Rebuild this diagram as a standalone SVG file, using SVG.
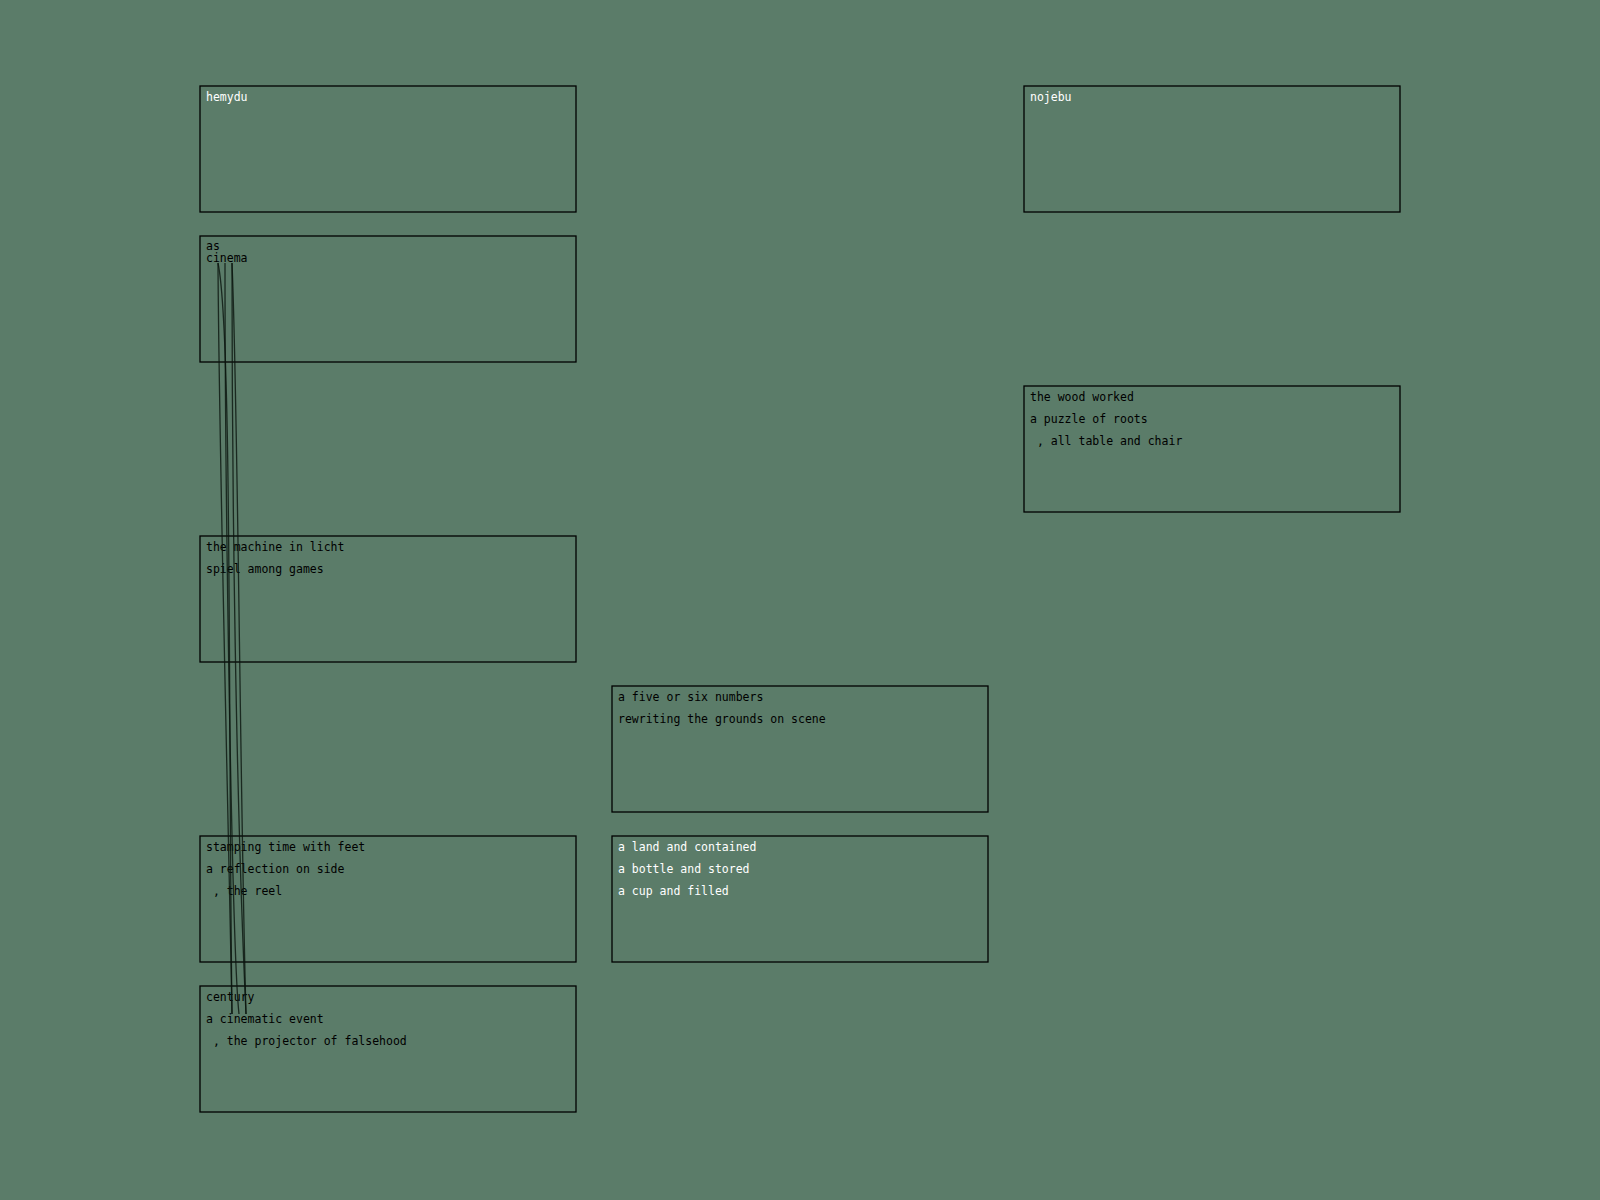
<svg xmlns="http://www.w3.org/2000/svg" width="1600" height="1200" viewBox="0 0 1600 1200">
<style>
.box{fill:none;stroke:#000;stroke-width:1.3}
.t{font-family:"DejaVu Sans Mono","Liberation Mono",monospace;font-size:11.5px;fill:#000;white-space:pre}
.w{fill:#fff}
.edge{fill:none;stroke:#0a140e;stroke-width:1.3;stroke-opacity:0.8}
</style>
<rect x="0" y="0" width="1600" height="1200" fill="#5b7c69"/>
<g id="node-hemydu"><rect class="box" x="200" y="86" width="376" height="126"/><text class="t w" x="206" y="100.5">hemydu</text></g>
<g id="node-cinema"><rect class="box" x="200" y="236" width="376" height="126"/><text class="t" x="206" y="249.5">as</text><text class="t" x="206" y="261.5">cinema</text></g>
<g id="node-machine"><rect class="box" x="200" y="536" width="376" height="126"/><text class="t" x="206" y="550.5">the machine in licht</text><text class="t" x="206" y="572.5">spiel among games</text></g>
<g id="node-stamping"><rect class="box" x="200" y="836" width="376" height="126"/><text class="t" x="206" y="850.5">stamping time with feet</text><text class="t" x="206" y="872.5">a reflection on side</text><text class="t" x="206" y="894.5"> , the reel</text></g>
<g id="node-century"><rect class="box" x="200" y="986" width="376" height="126"/><text class="t" x="206" y="1000.5">century</text><text class="t" x="206" y="1022.5">a cinematic event</text><text class="t" x="206" y="1044.5"> , the projector of falsehood</text></g>
<g id="node-five"><rect class="box" x="612" y="686" width="376" height="126"/><text class="t" x="618" y="700.5">a five or six numbers</text><text class="t" x="618" y="722.5">rewriting the grounds on scene</text></g>
<g id="node-land"><rect class="box" x="612" y="836" width="376" height="126"/><text class="t w" x="618" y="850.5">a land and contained</text><text class="t w" x="618" y="872.5">a bottle and stored</text><text class="t w" x="618" y="894.5">a cup and filled</text></g>
<g id="node-nojebu"><rect class="box" x="1024" y="86" width="376" height="126"/><text class="t w" x="1030" y="100.5">nojebu</text></g>
<g id="node-wood"><rect class="box" x="1024" y="386" width="376" height="126"/><text class="t" x="1030" y="400.5">the wood worked</text><text class="t" x="1030" y="422.5">a puzzle of roots</text><text class="t" x="1030" y="444.5"> , all table and chair</text></g>
<g id="connectors">
<path class="edge" d="M218,263 C219,450 228,800 232,1014"/>
<path class="edge" d="M218,263 C232,330 228,700 232,1014"/>
<path class="edge" d="M225,263 C225,500 232,950 239,1014"/>
<path class="edge" d="M232,263 C232,500 236,800 246,1014"/>
<path class="edge" d="M232,263 C238,400 240,800 246,1014"/>
</g>
</svg>
